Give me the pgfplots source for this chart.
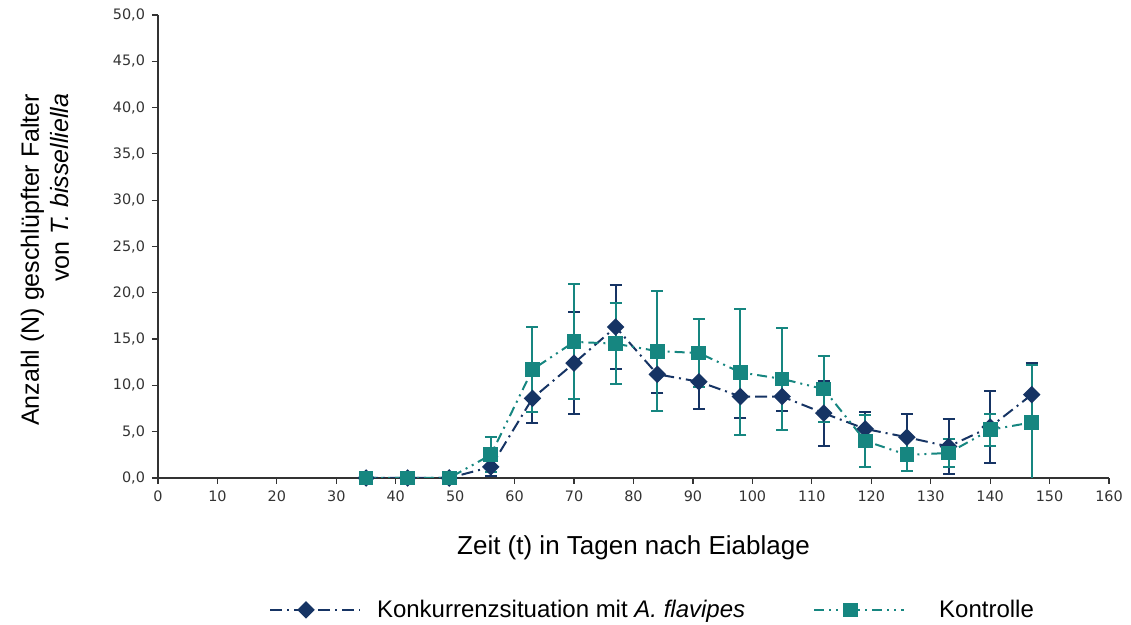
\documentclass[border=0pt]{standalone}
\usepackage{fontspec}
\setmainfont{Liberation Sans}
\newfontfamily\tickfont{DejaVu Sans}
\usepackage{pgfplots}
\pgfplotsset{compat=1.18}
\definecolor{navy}{RGB}{22,52,100}
\definecolor{tealc}{RGB}{22,134,128}
\begin{document}
\begin{tikzpicture}
\begin{axis}[
  scale only axis,
  width=475.5pt, height=231.5pt,
  xmin=0, xmax=160, ymin=0, ymax=50,
  xtick={0,10,...,160}, ytick={0,5,...,50},
  axis lines*=left,
  tick align=outside,
  major tick length=3pt,
  axis line style={black!80, line width=0.6pt},
  tick style={black!80, line width=0.6pt},
  /pgf/number format/assume math mode=true,
  ticklabel style={font=\tickfont\fontsize{7.2}{8}\selectfont, text=black!80},
  yticklabel style={/pgf/number format/.cd, fixed, fixed zerofill, precision=1, use comma},
  xticklabel style={/pgf/number format/.cd, fixed, precision=0},
  xlabel={Zeit (t) in Tagen nach Eiablage},
  xlabel style={font=\fontsize{13}{15}\selectfont, at={(axis description cs:0.5,-0.151)}, anchor=center},
  ylabel={Anzahl (N) geschlüpfter Falter\\von \textit{T. bisselliella}},
  ylabel style={font=\fontsize{12.5}{15}\selectfont, align=right, at={(axis description cs:-0.119,0.845)}, anchor=east},
  legend columns=2,
  legend style={draw=none, fill=none, font=\fontsize{12}{14}\selectfont,
    at={(axis description cs:0.521,-0.285)}, anchor=center,
    /tikz/column 1/.style={column sep=6pt},
    /tikz/column 2/.style={column sep=32pt},
    /tikz/column 3/.style={column sep=15pt}},
  legend image code/.code={\draw[mark repeat=2,mark phase=2,#1] plot coordinates {(0pt,0pt) (18pt,0pt) (45pt,0pt)};},
]
\addplot+[navy, line width=1pt, dash pattern=on 6pt off 2.5pt on 1pt off 2.5pt,
  mark=square*, mark size=2.6pt, mark options={solid, fill=navy, draw=navy, rotate=45},
  error bars/.cd, y dir=both, y explicit,
  error mark options={rotate=90, mark size=3pt, line width=1pt, navy, solid},
  error bar style={line width=1pt, navy, solid}]
  table[x=x, y=y, y error=e] {
x y e
35 0 0
42 0 0
49 0 0
56 1.2 1.0
63 8.6 2.7
70 12.4 5.5
77 16.3 4.5
84 11.2 2.0
91 10.4 3.0
98 8.8 2.3
105 8.8 1.6
112 7.0 3.5
119 5.3 1.8
126 4.4 2.5
133 3.4 3.0
140 5.5 3.9
147 9.0 3.4
};
\addlegendentry{Konkurrenzsituation mit \textit{A. flavipes}}
\addplot+[tealc, line width=1pt, dash pattern=on 5pt off 2.5pt on 1pt off 2.5pt on 1pt off 2.5pt,
  mark=square*, mark size=3.2pt, mark options={solid, fill=tealc, draw=tealc},
  error bars/.cd, y dir=both, y explicit,
  error mark options={rotate=90, mark size=3pt, line width=1pt, tealc, solid},
  error bar style={line width=1pt, tealc, solid}]
  table[x=x, y=y, y error=e] {
x y e
35 0 0
42 0 0
49 0 0
56 2.5 1.9
63 11.7 4.6
70 14.7 6.2
77 14.5 4.4
84 13.7 6.5
91 13.5 3.7
98 11.4 6.8
105 10.7 5.5
112 9.6 3.6
119 4.0 2.8
126 2.5 1.7
133 2.7 1.5
140 5.2 1.7
147 6.0 6.2
};
\addlegendentry{Kontrolle}
\end{axis}
\pgfresetboundingbox
\path (-79pt,-73.5pt) rectangle (486.5pt,239pt);
\end{tikzpicture}
\end{document}
